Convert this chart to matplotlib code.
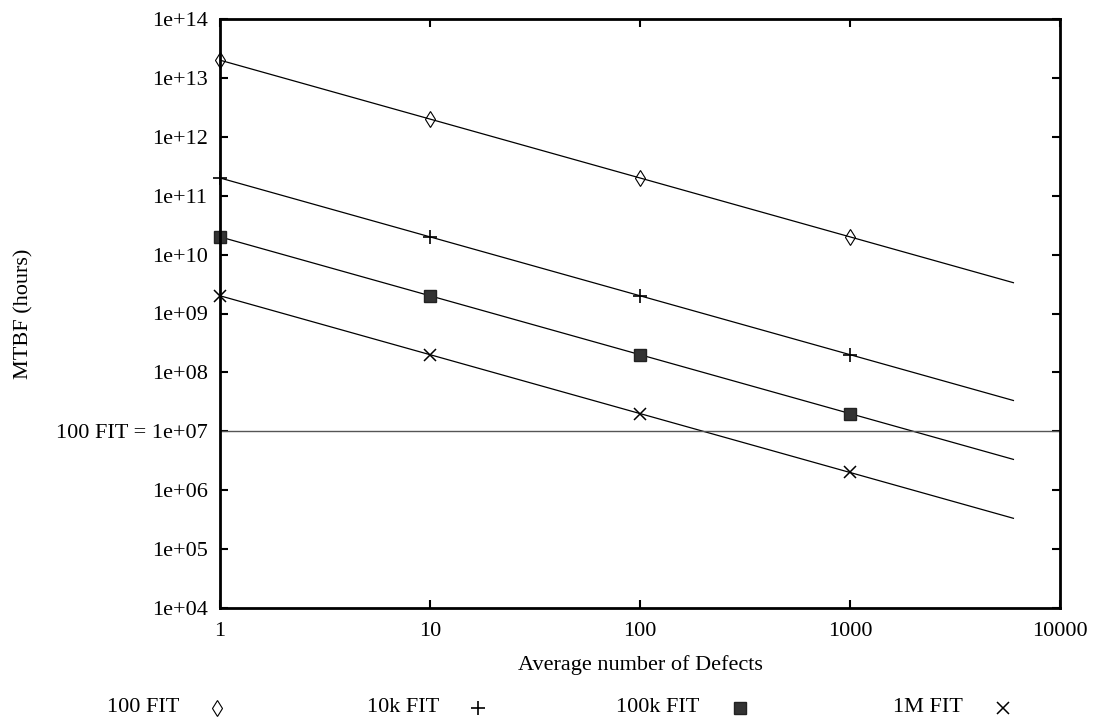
import numpy as np
import matplotlib
matplotlib.use("Agg")
import matplotlib.pyplot as plt
from matplotlib.lines import Line2D

plt.rcParams['font.family'] = ['Liberation Serif', 'DejaVu Serif']

# data: MTBF (hours) at each defect count, per FIT rate
defects = [1, 10, 100, 1000]
line_end = 6000
series_names = ["100 FIT", "10k FIT", "100k FIT", "1M FIT"]
mtbf_at_one = [2e13, 2e11, 2e10, 2e9]
markers = ["d", "+", "s", "x"]
threshold = 1e7


def marker_style(m):
    if m == "d":
        return dict(ms=8, mfc='none', mec='black', mew=0.8)
    if m == "s":
        return dict(ms=9, mfc='#333333', mec='#222222')
    if m == "+":
        return dict(ms=10, mec='black', mew=1.2)
    return dict(ms=9, mec='black', mew=1.1)


fig = plt.figure(figsize=(10.96, 7.26), dpi=100)
ax = fig.add_axes([220 / 1096, 1 - 608 / 726, 840 / 1096, 589 / 726])

xs_line = np.array([1, line_end])
for name, c, m in zip(series_names, mtbf_at_one, markers):
    ax.plot(xs_line, c / xs_line, color='black', lw=0.9)
    pts = np.array(defects, dtype=float)
    ax.plot(pts, c / pts, ls='none', marker=m, clip_on=False, **marker_style(m))

ax.axhline(threshold, color='#555555', lw=1.0)

ax.set_xscale('log')
ax.set_yscale('log')
ax.set_xlim(1, 10000)
ax.set_ylim(1e4, 1e14)

xt = [1, 10, 100, 1000, 10000]
ax.set_xticks(xt)
ax.set_xticklabels([str(v) for v in xt])
yt = [10.0 ** k for k in range(4, 15)]
ax.set_yticks(yt)
ylabels = ["1e+%02d" % k for k in range(4, 15)]
ylabels[3] = "100 FIT = 1e+07"
ax.set_yticklabels(ylabels)
ax.minorticks_off()
ax.tick_params(direction='in', length=6, width=1.5, labelsize=16, top=True, right=True)
ax.tick_params(axis='y', pad=9)
ax.tick_params(axis='x', pad=10)
for s in ax.spines.values():
    s.set_linewidth(2)

ax.set_xlabel("Average number of Defects", fontsize=16, labelpad=10)
ax.set_ylabel("MTBF (hours)", fontsize=16, labelpad=16)

# legend row at the bottom: label then marker
leg_text_x = [143, 403, 658, 928]
leg_mark_x = [217, 478, 740, 1003]
leg_y = 1 - 708 / 726
for name, m, tx, mx in zip(series_names, markers, leg_text_x, leg_mark_x):
    fig.text(tx / 1096, leg_y, name, ha='center', va='center', fontsize=16)
    fig.add_artist(Line2D([mx / 1096], [leg_y], marker=m, ls='none',
                          transform=fig.transFigure, **marker_style(m)))

fig.savefig("out.png", dpi=100)
